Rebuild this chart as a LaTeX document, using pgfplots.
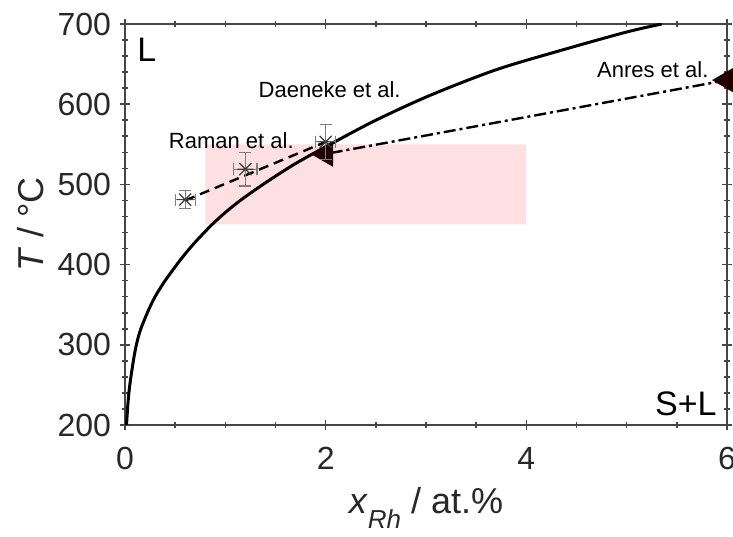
\documentclass[border=0pt]{standalone}
\usepackage{pgfplots}
\pgfplotsset{compat=1.18}
\usepackage{fontspec}
\setmainfont{Liberation Sans}
\usetikzlibrary{calc}

\definecolor{boxpink}{RGB}{255,224,226}
\definecolor{axgray}{RGB}{70,70,70}
\definecolor{txtgray}{RGB}{40,40,40}
\definecolor{triblack}{RGB}{35,0,0}
\definecolor{errgray}{RGB}{125,125,125}
\definecolor{markgray}{RGB}{60,60,60}

% asterisk with eight rays (plus + cross)
\pgfdeclareplotmark{star8}{%
  \pgfpathmoveto{\pgfpoint{-\pgfplotmarksize}{0pt}}%
  \pgfpathlineto{\pgfpoint{\pgfplotmarksize}{0pt}}%
  \pgfpathmoveto{\pgfpoint{-0.75\pgfplotmarksize}{-0.75\pgfplotmarksize}}%
  \pgfpathlineto{\pgfpoint{0.75\pgfplotmarksize}{0.75\pgfplotmarksize}}%
  \pgfpathmoveto{\pgfpoint{-0.75\pgfplotmarksize}{0.75\pgfplotmarksize}}%
  \pgfpathlineto{\pgfpoint{0.75\pgfplotmarksize}{-0.75\pgfplotmarksize}}%
  \pgfusepathqstroke}

\begin{document}
\begin{tikzpicture}
\begin{axis}[
    scale only axis,
    width=301pt, height=200.5pt,
    xmin=0, xmax=6, ymin=200, ymax=700,
    xtick={0,2,4,6}, ytick={200,300,...,700},
    minor x tick num=3, minor y tick num=4,
    tick align=center,
    major tick length=5pt, minor tick length=3pt,
    axis line style={axgray, line width=0.8pt},
    every tick/.style={axgray, line width=0.8pt},
    /pgf/number format/assume math mode=true,
    ticklabel style={font=\fontsize{16}{18}\selectfont, text=txtgray},
    xticklabel style={yshift=-5pt},
    yticklabel style={xshift=-1pt},
    xlabel={\textit{x}\raisebox{-7.5pt}{\fontsize{13}{13}\selectfont\textit{Rh}} / at.\%},
    xlabel style={yshift=-2pt},
    ylabel={\textit{T} / °C},
    label style={font=\fontsize{18}{20}\selectfont, text=txtgray},
    clip mode=individual,
]

% region of interest
\addplot[fill=boxpink, draw=none] coordinates {(0.8,450)(4,450)(4,550)(0.8,550)(0.8,450)};

% liquidus
\addplot[black, line width=1.5pt, smooth, tension=0.5] coordinates {
  (0.015,200)(0.03,228)(0.05,252)(0.1,292)(0.15,317)(0.23,342)(0.3,360)
  (0.4,380)(0.565,408)(0.7,428)(0.86,449)(1.0,465)(1.16,481)(1.4,502)
  (1.7,526)(2.09,553)(2.5,580)(3.04,611)(3.7,643)(4.37,668)(5.0,690)(5.35,700)
};

% Raman -> Daeneke
\addplot[black, line width=1.2pt, dash pattern=on 5pt off 3pt] coordinates {(0.6,480)(2.0,553)};

% Anres
\addplot[black, line width=1.2pt, dash pattern=on 6pt off 2pt on 1.5pt off 2pt,
  mark=triangle*, mark size=6.3pt,
  mark options={solid, rotate=90, fill=triblack, draw=triblack}]
  coordinates {(6,630)(2.0,538)};

% measured points
\addplot[only marks, mark=star8, mark size=4pt, mark options={markgray, line width=0.6pt},
  error bars/.cd, x dir=both, y dir=both, x explicit, y explicit,
  error bar style={errgray, line width=0.6pt},
  error mark options={rotate=90, mark size=3pt, errgray, line width=0.6pt}]
  coordinates {
  (0.6,481) +- (0.1,11)
  (1.2,519) +- (0.115,21)
  (2.0,553) +- (0.1,22)
};

\node[anchor=base, font=\fontsize{11}{13}\selectfont] at (axis cs:1.06,545) {Raman et al.};
\node[anchor=base, font=\fontsize{11}{13}\selectfont] at (axis cs:2.04,608) {Daeneke et al.};
\node[anchor=base, font=\fontsize{11}{13}\selectfont] at (axis cs:5.26,633) {Anres et al.};
\node[anchor=base west, font=\fontsize{17}{19}\selectfont, inner sep=0pt] at (axis cs:0.12,653) {L};
\node[anchor=base east, font=\fontsize{17}{19}\selectfont, inner sep=0pt] at (axis cs:5.9,212) {S+L};
\end{axis}
\pgfresetboundingbox
\path[use as bounding box] ($(current axis.south west)+(-62.5pt,-56pt)$) rectangle ($(current axis.north east)+(3pt,12pt)$);
\end{tikzpicture}
\end{document}
